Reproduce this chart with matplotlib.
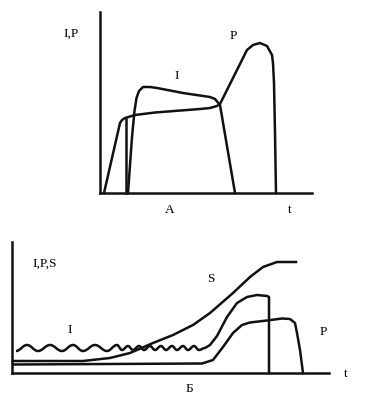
import matplotlib
matplotlib.use("Agg")
import matplotlib.pyplot as plt
from matplotlib.path import Path
from matplotlib.patches import PathPatch

# ---------------- data (schematic units) ----------------
# Top panel (A)
top_P_x = [4, 20, 22, 25, 35, 55, 100, 110, 117, 120, 147, 153, 160, 167, 172, 173, 174, 175, 176]
top_P_y = [0, 70, 73, 75, 78, 80.5, 84, 85, 87, 89, 143, 148, 150, 147, 138, 130, 110, 60, 0]
top_I_x = [28, 32, 34.5, 36.5, 39, 43, 50, 57, 83, 110, 115, 120, 135]
top_I_y = [0, 56, 82, 95, 102, 106, 106, 105, 100, 96, 94, 88, 0]
top_V_x = [26, 26]
top_V_y = [0, 74]

# Bottom panel (Б)
bot_S_x = [1, 71, 98, 118, 141, 161, 181, 198, 221, 238, 251, 265, 284]
bot_S_y = [12, 12, 15, 20, 30, 38, 48, 60, 80, 96, 106, 111, 111]
bot_P_x = [1, 190, 201, 211, 221, 230, 238, 255, 270, 278, 283, 285, 288, 291]
bot_P_y = [8.5, 9.5, 13, 26, 40, 48, 50.5, 52.5, 54.5, 54, 50, 40, 23, 0]
# wavy part of I (extrema)
bot_Iw_x = [4, 15, 26, 38, 50, 61, 71, 83, 95, 105, 110, 116, 121, 127, 132, 138, 143,
            149, 154, 160, 165, 171, 176, 182, 187, 193]
bot_Iw_y = [22, 28, 22, 28, 22, 28, 22, 28, 22, 28, 23, 27, 23, 27, 23, 27, 23,
            27, 23, 27, 23, 27, 23, 27, 23, 25]
# rising part of I
bot_Ir_x = [198, 205, 215, 225, 235, 245, 255, 257, 257]
bot_Ir_y = [28, 37, 56, 70, 76, 78, 77, 76, 0]

LW = 1.8
INK = "#111111"
FONT = "Liberation Serif"
FS = 9.5

fig = plt.figure(figsize=(3.66, 4.0), dpi=100)
fig.patch.set_facecolor("white")


def style_axes(ax):
    for s in ("top", "right"):
        ax.spines[s].set_visible(False)
    for s in ("left", "bottom"):
        ax.spines[s].set_linewidth(LW)
        ax.spines[s].set_color(INK)
    ax.set_xticks([])
    ax.set_yticks([])
    ax.patch.set_alpha(0)


# ---------------- top panel ----------------
ax1 = fig.add_axes([100 / 366, 207 / 400, 212 / 366, 181 / 400])
ax1.set_xlim(0, 212)
ax1.set_ylim(0, 181)
style_axes(ax1)
ax1.plot(top_P_x, top_P_y, color=INK, lw=LW, clip_on=False, solid_joinstyle="round")
ax1.plot(top_I_x, top_I_y, color=INK, lw=LW, clip_on=False, solid_joinstyle="round")
ax1.plot(top_V_x, top_V_y, color=INK, lw=LW, clip_on=False)

ax1.text(-29, 156, "I,P", family=FONT, fontsize=FS, ha="center", va="baseline", clip_on=False)
ax1.text(133.5, 154, "P", family=FONT, fontsize=FS, ha="center", va="baseline")
ax1.text(76.5, 114, "I", family=FONT, fontsize=FS, ha="center", va="baseline")
ax1.text(70, -20, "A", family=FONT, fontsize=FS, ha="center", va="baseline", clip_on=False)
ax1.text(190, -20, "t", family=FONT, fontsize=FS, ha="center", va="baseline", clip_on=False)

# ---------------- bottom panel ----------------
ax2 = fig.add_axes([12 / 366, 27 / 400, 317 / 366, 131 / 400])
ax2.set_xlim(0, 317)
ax2.set_ylim(0, 131)
style_axes(ax2)
ax2.plot(bot_S_x, bot_S_y, color=INK, lw=LW, clip_on=False, solid_joinstyle="round")
ax2.plot(bot_P_x, bot_P_y, color=INK, lw=LW, clip_on=False, solid_joinstyle="round")

verts = [(bot_Iw_x[0], bot_Iw_y[0])]
codes = [Path.MOVETO]
for i in range(1, len(bot_Iw_x)):
    x0, y0 = bot_Iw_x[i - 1], bot_Iw_y[i - 1]
    x1, y1 = bot_Iw_x[i], bot_Iw_y[i]
    d = x1 - x0
    verts += [(x0 + 0.4 * d, y0), (x1 - 0.4 * d, y1), (x1, y1)]
    codes += [Path.CURVE4] * 3
for x, y in zip(bot_Ir_x, bot_Ir_y):
    verts.append((x, y))
    codes.append(Path.LINETO)
ax2.add_patch(PathPatch(Path(verts, codes), fill=False, edgecolor=INK, lw=LW,
                        joinstyle="round", clip_on=False))

ax2.text(33, 106, "I,P,S", family=FONT, fontsize=FS, ha="center", va="baseline")
ax2.text(199, 91, "S", family=FONT, fontsize=FS, ha="center", va="baseline")
ax2.text(58, 40, "I", family=FONT, fontsize=FS, ha="center", va="baseline")
ax2.text(311.5, 38, "P", family=FONT, fontsize=FS, ha="center", va="baseline")
ax2.text(177, -19, "Б", family=FONT, fontsize=FS, ha="center", va="baseline", clip_on=False)
ax2.text(333.5, -4, "t", family=FONT, fontsize=FS, ha="center", va="baseline", clip_on=False)

fig.savefig("out.png", dpi=100, facecolor="white")
